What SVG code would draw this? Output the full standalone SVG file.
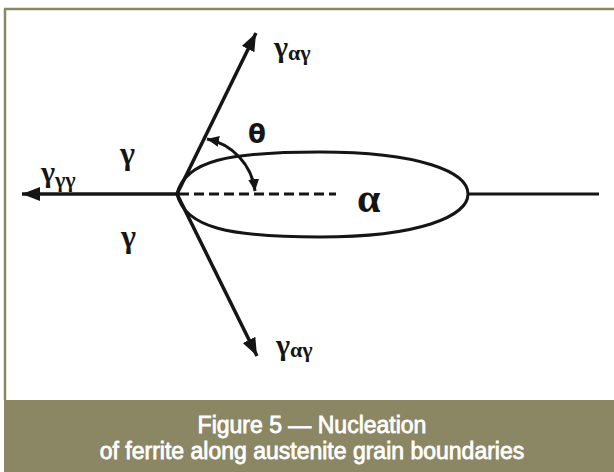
<svg xmlns="http://www.w3.org/2000/svg" width="614" height="472" viewBox="0 0 614 472">
  <style>
    .ln { stroke: #151515; stroke-width: 3.5; fill: none; }
    .thin { stroke: #151515; stroke-width: 3; fill: none; }
    .sym { font-family: "Liberation Serif", "Times New Roman", serif; font-weight: bold; fill: #151515; }
    .cap { font-family: "Liberation Sans", Arial, sans-serif; font-size: 23px; fill: #ffffff; stroke: #ffffff; stroke-width: 0.8; text-anchor: middle; }
  </style>
  <defs>
    <marker id="bigHead" markerUnits="userSpaceOnUse" markerWidth="20" markerHeight="16" refX="18" refY="8" orient="auto">
      <path d="M0,1 L18,8 L0,15 Z" fill="#151515"/>
    </marker>
    <marker id="smallHead" markerUnits="userSpaceOnUse" markerWidth="14" markerHeight="12" refX="12" refY="6" orient="auto-start-reverse">
      <path d="M0,0.5 L12,6 L0,11.5 Z" fill="#151515"/>
    </marker>
  </defs>
  <rect x="0" y="0" width="614" height="472" fill="#ffffff"/>
  <g id="frame">
    <line x1="4" y1="9" x2="614" y2="9" stroke="#8b8663" stroke-width="2.5"/>
    <line x1="5" y1="9" x2="5" y2="400" stroke="#8b8663" stroke-width="2.5"/>
  </g>
  <g id="connectors">
    <path class="ln" d="M177,194 L22,194" marker-end="url(#bigHead)"/>
    <path class="ln" d="M177,194 L256,33" marker-end="url(#bigHead)"/>
    <path class="ln" d="M177,194 L257,356" marker-end="url(#bigHead)"/>
    <path class="thin" d="M468,194 L599,194"/>
    <path class="thin" d="M179,194 L336,194" stroke-width="3.5" stroke-dasharray="10 5"/>
    <path class="thin" d="M207,139 A 60 60 0 0 1 255,191" marker-start="url(#smallHead)" marker-end="url(#smallHead)"/>
  </g>
  <g id="alpha-nucleus">
    <path class="thin" d="M177,194 C185,160 230,152 320,152 C420,152 468,172 468,194 C468,216 420,237 320,237 C230,237 185,228 177,194 Z"/>
    <text class="sym" x="357" y="212" font-size="42">α</text>
  </g>
  <g id="label-theta">
    <text x="248" y="143" font-family="DejaVu Sans, sans-serif" font-weight="bold" font-size="26" fill="#151515">θ</text>
  </g>
  <g id="label-gamma-upper">
    <text class="sym" x="120" y="164" font-size="32">γ</text>
  </g>
  <g id="label-gamma-lower">
    <text class="sym" x="121" y="247" font-size="32">γ</text>
  </g>
  <g id="label-gamma-gg">
    <text class="sym" x="41" y="182" font-size="30">γ<tspan font-size="22" dy="5">γγ</tspan></text>
  </g>
  <g id="label-gamma-ag-top">
    <text class="sym" x="274" y="57" font-size="30">γ<tspan font-size="22" dy="3">αγ</tspan></text>
  </g>
  <g id="label-gamma-ag-bottom">
    <text class="sym" x="276" y="355" font-size="30">γ<tspan font-size="22" dy="2">αγ</tspan></text>
  </g>
  <g id="caption">
    <rect x="4" y="400" width="610" height="72" fill="#8b8663"/>
    <text class="cap" x="312" y="433">Figure 5 — Nucleation</text>
    <text class="cap" x="312" y="459">of ferrite along austenite grain boundaries</text>
  </g>
</svg>
